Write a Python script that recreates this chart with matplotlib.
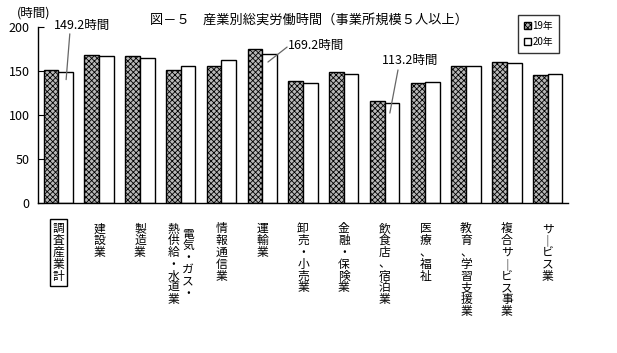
import matplotlib
matplotlib.use('Agg')
import matplotlib.pyplot as plt
from matplotlib.patches import Patch
import numpy as np

plt.rcParams['font.family'] = ['Noto Sans CJK JP', 'DejaVu Sans']
plt.rcParams['hatch.linewidth'] = 0.6

# data
categories = ['調査産業計', '建設業', '製造業', '電気・ガス・熱供給・水道業', '情報通信業',
              '運輸業', '卸売・小売業', '金融・保険業', '飲食店、宿泊業', '医療、福祉',
              '教育、学習支援業', '複合サービス事業', 'サービス業']
hours_19 = [150.8, 167.8, 166.7, 150.8, 155.3, 174.7, 138.3, 148.5, 115.6, 136.0, 155.3, 159.9, 145.1]
hours_20 = [149.2, 166.7, 164.4, 155.3, 162.1, 169.2, 136.0, 146.2, 113.2, 137.2, 155.3, 158.8, 146.2]
callouts = {0: '149.2時間', 5: '169.2時間', 8: '113.2時間'}

fig = plt.figure(figsize=(6.17, 3.53), dpi=100)
ax = fig.add_axes([38 / 617, 150 / 353, 530 / 617, 176 / 353])

x = np.arange(len(categories))
w = 0.36
ax.bar(x - w / 2, hours_19, w, facecolor='#b8b8b8', edgecolor='black', hatch='xxxxxx', linewidth=1)
ax.bar(x + w / 2, hours_20, w, facecolor='white', edgecolor='black', linewidth=1)

ax.set_xlim(-0.5, len(categories) - 0.5)
ax.set_ylim(0, 200)
ax.set_yticks([0, 50, 100, 150, 200])
ax.tick_params(axis='y', direction='in', length=4, labelsize=9, pad=6)
ax.set_xticks([])
for s in ['top', 'right']:
    ax.spines[s].set_visible(False)
ax.spines['left'].set_linewidth(1)
ax.spines['bottom'].set_linewidth(1)

# callouts for 20年
offsets = {0: ((0.01, -9), (0.1, 43), (0.4, 52)),
           5: ((-0.04, -9), (0.43, 8), (0.45, 10)),
           8: ((-0.05, -11), (0.15, 38), (0.44, 49))}
for i, txt in callouts.items():
    (dx0, dy0), (dx1, dy1), (tx, ty) = offsets[i]
    v = hours_20[i]
    ax.annotate('', xy=(i + w / 2 + dx0, v + dy0), xytext=(i + w / 2 + dx1, v + dy1),
                arrowprops=dict(arrowstyle='-', color='#666666', lw=0.9, shrinkA=0, shrinkB=0))
    ha = 'left' if i == 5 else 'center'
    ax.text(i + w / 2 + tx, v + ty, txt, ha=ha, va='center', fontsize=9)

# vertical category labels
def vert(s):
    return '\n'.join(s.replace('ー', '｜'))

ls = 0.88
for i, name in enumerate(categories):
    if i == 3:
        ax.text(i + 0.18, -28, vert('電気・ガス・'), ha='center', va='top', fontsize=8.5,
                linespacing=ls, clip_on=False)
        ax.text(i - 0.18, -22, vert('熱供給・水道業'), ha='center', va='top', fontsize=8.5,
                linespacing=ls, clip_on=False)
        continue
    kw = {}
    if i == 0:
        kw['bbox'] = dict(boxstyle='square,pad=0.25', facecolor='white', edgecolor='black', lw=1)
    ax.text(i, -22, vert(name), ha='center', va='top', fontsize=8.5, linespacing=ls,
            clip_on=False, **kw)

ax.text(-0.6, 208, '(時間)', ha='center', va='bottom', fontsize=9, clip_on=False)
fig.text(0.5, 0.942, '図－５　産業別総実労働時間（事業所規模５人以上）', ha='center', va='center', fontsize=9.5)

handles = [Patch(facecolor='#b8b8b8', edgecolor='black', hatch='xxxxxx', label='19年'),
           Patch(facecolor='white', edgecolor='black', label='20年')]
leg = fig.legend(handles=handles, loc='upper left', bbox_to_anchor=(518 / 617, 1 - 15 / 353),
                 bbox_transform=fig.transFigure, fontsize=7, frameon=True, fancybox=False,
                 edgecolor='black', handlelength=0.7, handleheight=0.7, handletextpad=0.2,
                 borderpad=0.6, labelspacing=0.6, borderaxespad=0)
leg.get_frame().set_linewidth(1)

fig.savefig('out.png', dpi=100)
